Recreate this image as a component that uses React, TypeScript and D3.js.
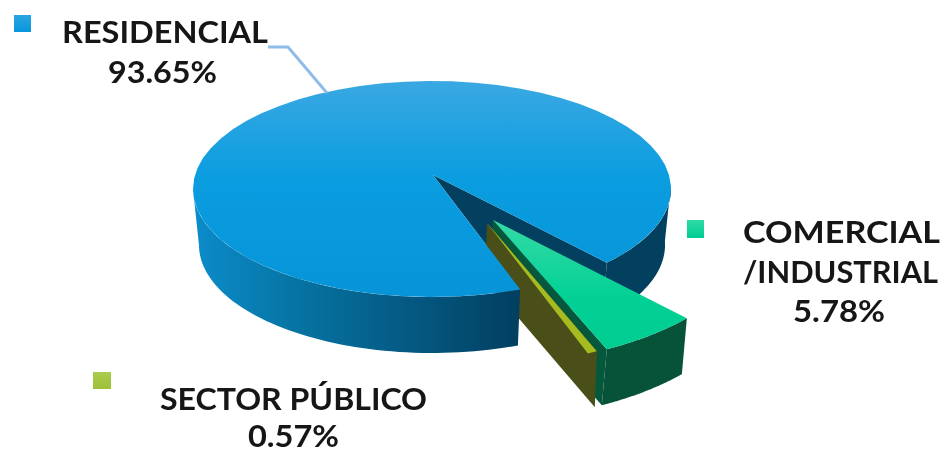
import React from "react";
import * as d3 from "d3";

const categories = ["RESIDENCIAL", "COMERCIAL /INDUSTRIAL", "SECTOR PÚBLICO"];
const shares = [93.65, 5.78, 0.57];
const shareLabels = ["93.65%", "5.78%", "0.57%"];

const W = 943, H = 454;
const DEG = Math.PI / 180;
const FONT = "Lato, 'Open Sans', sans-serif";

type Frame = { apex: [number, number]; cx: number; cy: number; rx: number; ry: number; dx: number; dy: number; taper: number };
const mainFrame: Frame = { apex: [433, 175], cx: 432, cy: 189, rx: 239, ry: 108, dx: 0, dy: 56, taper: 0.975 };
const greenFrame: Frame = { apex: [493, 220], cx: 485, cy: 220, rx: 276, ry: 144, dx: -5, dy: 56, taper: 1 };
const oliveFrame: Frame = { apex: [487, 223], cx: 475, cy: 222, rx: 276, ry: 144, dx: -2, dy: 56, taper: 1 };

// order in the pie: commercial, public, residential, clockwise from the gap edge
const order = [1, 2, 0];
const pie = d3.pie<number>().sort(null).value(d => shares[d]).startAngle(0).endAngle(2 * Math.PI);
const START = 43 * DEG;
const arcs = pie(order);
const ang = (i: number) => {
  const a = arcs.find(x => x.data === i)!;
  return [a.startAngle + START, a.endAngle + START] as [number, number];
};
const GAP_PAD = 2.5 * DEG;

const pt = (f: Frame, a: number): [number, number] => [f.cx + f.rx * Math.cos(a), f.cy + f.ry * Math.sin(a)];
const down = (f: Frame, p: [number, number]): [number, number] => [f.cx + (p[0] - f.cx) * f.taper + f.dx, p[1] + f.dy];
const line = d3.line<[number, number]>();
const poly = (pts: [number, number][]) => line(pts)! + "Z";
const arcPts = (f: Frame, a0: number, a1: number) => d3.range(0, 61).map(i => pt(f, a0 + ((a1 - a0) * i) / 60));
const wedge = (f: Frame, a0: number, a1: number) => poly([f.apex, ...arcPts(f, a0, a1)]);
const wall = (f: Frame, a0: number, a1: number) => {
  const p = arcPts(f, a0, a1);
  return poly([...p, ...p.slice().reverse().map(q => down(f, q))]);
};
const cut = (f: Frame, a: number) => {
  const p = pt(f, a);
  return poly([f.apex, p, down(f, p), down(f, f.apex)]);
};

const [gStart, gEnd] = ang(1);
const [oStart, oEnd] = ang(2);
const [rStart0, rEnd] = ang(0);
const rStart = rStart0 + GAP_PAD;

const pEnd = pt(mainFrame, rEnd);
const pStart = pt(mainFrame, rStart);

const Line = ({ x0, x1, y, text }: { x0: number; x1: number; y: number; text: string }) => (
  <text x={x0} y={y} textLength={x1 - x0} lengthAdjust="spacingAndGlyphs" fontFamily={FONT} fontWeight={700} fontSize={31} fill="#141414" filter="url(#soft)">
    {text}
  </text>
);

export default function App() {
  const blueFront = wall(mainFrame, rStart, Math.PI);
  const blueRight = wall(mainFrame, -2 * DEG, rEnd - 2 * Math.PI);
  return (
    <svg width={W} height={H} viewBox={`0 0 ${W} ${H}`} style={{ position: "absolute", left: 0, top: 0 }}>
      <defs>
        <filter id="soft" x="-5%" y="-10%" width="110%" height="120%"><feGaussianBlur stdDeviation="0.6" /></filter>
        <linearGradient id="blueTop" x1="0" y1="0" x2="0" y2="1">
          <stop offset="0" stopColor="#3aa8e2" />
          <stop offset="0.45" stopColor="#0a9de0" />
          <stop offset="1" stopColor="#0794d8" />
        </linearGradient>
        <linearGradient id="blueSide" gradientUnits="userSpaceOnUse" x1="193" y1="0" x2="520" y2="0">
          <stop offset="0" stopColor="#0b8ccb" />
          <stop offset="0.35" stopColor="#06719f" />
          <stop offset="0.7" stopColor="#04567f" />
          <stop offset="1" stopColor="#023f60" />
        </linearGradient>
        <linearGradient id="greenTop" x1="0" y1="0" x2="0" y2="1">
          <stop offset="0" stopColor="#35dba6" />
          <stop offset="0.6" stopColor="#02d095" />
          <stop offset="1" stopColor="#00cd92" />
        </linearGradient>
        <linearGradient id="legendBlue" x1="0" y1="0" x2="0" y2="1">
          <stop offset="0" stopColor="#2ba4e2" /><stop offset="1" stopColor="#0796dc" />
        </linearGradient>
        <linearGradient id="legendGreen" x1="0" y1="0" x2="0" y2="1">
          <stop offset="0" stopColor="#2fdaa4" /><stop offset="1" stopColor="#00cd92" />
        </linearGradient>
        <linearGradient id="legendOlive" x1="0" y1="0" x2="0" y2="1">
          <stop offset="0" stopColor="#a8cc4c" /><stop offset="1" stopColor="#9fc038" />
        </linearGradient>
      </defs>

      {/* back walls of the main pie and the gap left by the pulled-out slices */}
      <path d={blueRight} fill="#03405f" />
      <path d={poly([mainFrame.apex, pEnd, down(mainFrame, pEnd), pStart])} fill="#03405f" />

      {/* commercial slice */}
      <path d={cut(greenFrame, gEnd)} fill="#06583c" />
      <path d={wall(greenFrame, gStart, gEnd)} fill="#06533a" />
      <path d={wedge(greenFrame, gStart, gEnd)} fill="url(#greenTop)" />

      {/* public sector slice */}
      <path d={cut(oliveFrame, oStart)} fill="#4a4e18" />
      <path d={wedge(oliveFrame, oStart, oEnd)} fill="#a5bb1f" />

      {/* residential slice */}
      <path d={blueFront} fill="url(#blueSide)" />
      <path d={wedge(mainFrame, rStart, rEnd)} fill="url(#blueTop)" />

      {/* leader */}
      <path d="M268,47H288L327,93" fill="none" stroke="#8fbce8" strokeWidth={3} />

      {/* legend markers */}
      <rect x={14} y={15} width={17} height={17} fill="url(#legendBlue)" />
      <rect x={687} y={220} width={17} height={18} fill="url(#legendGreen)" />
      <rect x={93} y={372} width={18} height={17} fill="url(#legendOlive)" />

      <Line x0={62} x1={268} y={43} text={categories[0]} />
      <Line x0={108} x1={217} y={83} text={shareLabels[0]} />
      <Line x0={743} x1={940} y={243} text={categories[1].split(" ")[0]} />
      <Line x0={743} x1={938} y={283} text={categories[1].split(" ")[1]} />
      <Line x0={793} x1={885} y={322} text={shareLabels[1]} />
      <Line x0={160} x1={427} y={410} text={categories[2]} />
      <Line x0={248} x1={339} y={447} text={shareLabels[2]} />
    </svg>
  );
}
